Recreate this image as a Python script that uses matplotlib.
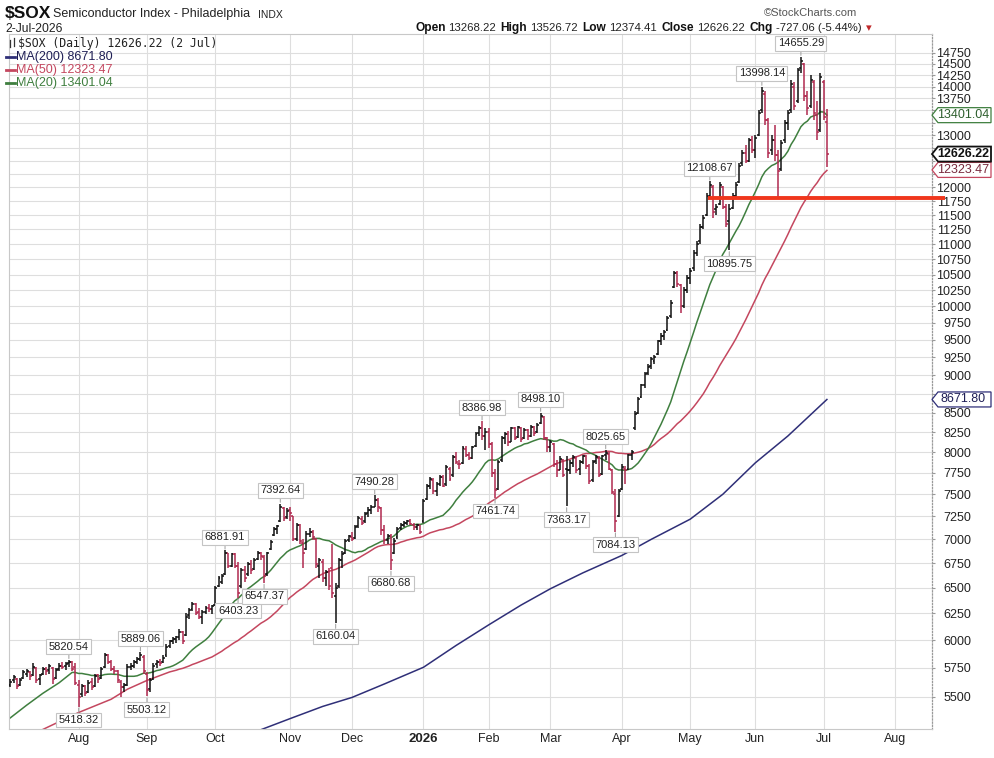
import numpy as np
import pandas as pd
import matplotlib
matplotlib.use("Agg")
import matplotlib.pyplot as plt
from matplotlib.patches import Polygon
from matplotlib.lines import Line2D
from matplotlib.ticker import FixedLocator, NullLocator, FuncFormatter

plt.rcParams['font.family'] = ['Liberation Sans', 'DejaVu Sans']

# ---------------- data ----------------
first_date = "2025-07-02"
market_holidays = ["2025-07-04", "2025-09-01", "2025-11-27", "2025-12-25", "2026-01-01",
                   "2026-01-19", "2026-02-16", "2026-04-03", "2026-05-25", "2026-06-19",
                   "2026-07-03", "2026-09-07"]

opens = [
    # Jul 2025
    5600, 5640, 5650, 5600, 5660, 5700, 5710, 5690, 5750, 5650, 5700, 5740, 5730, 5750, 5660, 5740, 5770, 5770, 5790, 5800, 5760,
    # Aug
    5600, 5520, 5590, 5540, 5630, 5590, 5690, 5660, 5760, 5860, 5800, 5740, 5720, 5630, 5580, 5600, 5760, 5770, 5800, 5830, 5850,
    # Sep
    5700, 5570, 5650, 5780, 5800, 5800, 5860, 5950, 5990, 6010, 6030, 6070, 6050, 6230, 6290, 6340, 6260, 6220, 6260, 6300, 6290,
    # Oct
    6330, 6520, 6560, 6640, 6850, 6720, 6840, 6720, 6520, 6680, 6640, 6740, 6690, 6790, 6860, 6810, 6640, 6900, 7050, 7110, 7200, 7340, 7240,
    # Nov
    7320, 7250, 7000, 7150, 6960, 6900, 7060, 7080, 7000, 6720, 6760, 6600, 6660, 6700, 6420, 6520, 6780, 6850, 6990,
    # Dec
    7020, 7010, 7140, 7220, 7200, 7290, 7320, 7360, 7440, 7340, 7100, 6990, 7040, 6850, 7020, 7120, 7160, 7180, 7200, 7160, 7130, 7150,
    # Jan 2026
    7200, 7450, 7600, 7670, 7540, 7620, 7700, 7620, 7800, 7720, 7940, 7860, 7870, 8040, 7960, 7930, 8080, 8240, 8300, 8200,
    # Feb
    8250, 8100, 7750, 7560, 7900, 8180, 8230, 8130, 8300, 8190, 8300, 8170, 8280, 8200, 8320, 8250, 8360, 8440, 8170,
    # Mar
    8060, 8100, 7850, 7790, 7900, 7800, 7780, 7870, 7930, 7800, 7880, 7950, 7830, 7660, 7890, 7930, 7740, 7960, 7980, 7790, 7500, 7250,
    # Apr
    7560, 7800, 7800, 7960, 8300, 8500, 8700, 8870, 9030, 9130, 9200, 9300, 9480, 9560, 9650, 9850, 10300, 10520, 10330, 10000, 10260,
    # May
    10450, 10600, 10850, 11050, 11300, 11500, 11850, 12000, 11600, 11700, 12000, 11650, 11400, 11620, 11850, 12100, 12450, 12650, 12500, 12900,
    # Jun
    12700, 13000, 13500, 13850, 13300, 12700, 12900, 12600, 12350, 12900, 13250, 13500, 14000, 13700, 14400, 14500, 13800, 13600, 14100, 13400, 13100,
    # Jul
    14100, 13268.22,
]
highs = [
    5650, 5690, 5660, 5660, 5730, 5740, 5720, 5790, 5760, 5700, 5760, 5760, 5780, 5760, 5750, 5790, 5800, 5800, 5820.54, 5810, 5790,
    5640, 5610, 5600, 5640, 5660, 5700, 5700, 5760, 5880, 5870, 5820, 5770, 5730, 5640, 5620, 5780, 5790, 5820, 5850, 5889.06, 5860,
    5710, 5660, 5790, 5820, 5830, 5860, 5960, 6000, 6030, 6040, 6100, 6080, 6250, 6300, 6360, 6350, 6300, 6280, 6320, 6340, 6330,
    6520, 6620, 6640, 6881.91, 6860, 6860, 6850, 6760, 6700, 6720, 6760, 6780, 6800, 6880, 6870, 6830, 6870, 6990, 7130, 7160, 7392.64, 7360, 7340,
    7350, 7260, 7180, 7170, 7000, 7090, 7120, 7100, 7010, 6800, 6790, 6680, 6700, 6950, 6550, 6800, 6880, 7000, 7050,
    7080, 7150, 7250, 7260, 7300, 7350, 7380, 7490.28, 7460, 7360, 7150, 7060, 7060, 7010, 7130, 7180, 7200, 7210, 7220, 7180, 7170, 7160,
    7450, 7620, 7700, 7690, 7640, 7720, 7720, 7840, 7820, 7960, 8000, 7900, 8080, 8080, 8000, 8080, 8250, 8330, 8386.98, 8300,
    8300, 8120, 7800, 7900, 8200, 8250, 8260, 8320, 8310, 8330, 8320, 8300, 8290, 8340, 8330, 8360, 8498.10, 8450, 8190,
    8150, 8110, 7900, 7950, 7920, 7950, 7900, 7960, 7950, 7900, 7970, 7960, 7850, 7900, 7960, 7950, 7960, 8025.65, 8000, 7800, 7560, 7560,
    7850, 7830, 7980, 8020, 8520, 8700, 8880, 9050, 9150, 9260, 9280, 9500, 9600, 9650, 9850, 10100, 10560, 10560, 10350, 10300, 10500,
    10600, 10900, 11050, 11350, 11500, 11900, 12108.67, 12050, 11700, 12100, 12020, 11700, 11700, 11900, 12100, 12450, 12700, 12800, 12950, 12980,
    13000, 13500, 13998.14, 13900, 13350, 13000, 13200, 12700, 12900, 13300, 13500, 14150, 14100, 14400, 14655.29, 14520, 13900, 14250, 14150, 13700, 14300,
    14150, 13526.72,
]
lows = [
    5580, 5620, 5570, 5590, 5650, 5670, 5640, 5680, 5620, 5600, 5690, 5690, 5700, 5610, 5650, 5720, 5740, 5730, 5760, 5720, 5600,
    5418.32, 5500, 5510, 5530, 5560, 5580, 5620, 5650, 5750, 5780, 5720, 5700, 5620, 5500, 5540, 5590, 5730, 5750, 5780, 5810, 5700,
    5503.12, 5540, 5640, 5750, 5770, 5790, 5850, 5930, 5960, 5970, 6000, 5960, 6040, 6200, 6270, 6230, 6200, 6150, 6240, 6260, 6240,
    6320, 6510, 6540, 6630, 6700, 6710, 6700, 6403.23, 6500, 6560, 6620, 6640, 6680, 6780, 6780, 6547.37, 6620, 6890, 7040, 7060, 7190, 7200, 7220,
    7200, 6980, 6980, 6950, 6700, 6890, 7020, 6990, 6700, 6600, 6560, 6520, 6480, 6400, 6160.04, 6500, 6700, 6840, 6970,
    6980, 7000, 7120, 7150, 7180, 7240, 7280, 7350, 7300, 7050, 6950, 6950, 6680.68, 6840, 7000, 7100, 7130, 7160, 7150, 7100, 7100, 7060,
    7180, 7440, 7560, 7500, 7480, 7600, 7580, 7600, 7650, 7700, 7860, 7800, 7860, 7940, 7900, 7920, 8060, 8200, 8150, 8020,
    8050, 7700, 7461.74, 7550, 7880, 8100, 8080, 8120, 8150, 8170, 8130, 8160, 8150, 8190, 8200, 8240, 8350, 8150, 8000,
    8000, 7820, 7700, 7780, 7700, 7363.17, 7740, 7820, 7750, 7720, 7850, 7800, 7620, 7640, 7850, 7700, 7730, 7900, 7780, 7500, 7084.13, 7240,
    7550, 7620, 7790, 7900, 8280, 8480, 8690, 8820, 9000, 9080, 9150, 9280, 9420, 9500, 9630, 9830, 10280, 10300, 9900, 9980, 10200,
    10350, 10550, 10800, 11000, 11250, 11480, 11800, 11450, 11500, 11680, 11600, 11300, 10895.75, 11600, 11800, 12080, 12400, 12450, 12480, 12650,
    12550, 12980, 13450, 13200, 12550, 12600, 12500, 11780, 12300, 12850, 13100, 13450, 13500, 13650, 14300, 13700, 13400, 13550, 13300, 12900, 13050,
    13300, 12374.41,
]
closes = [
    5630, 5670, 5590, 5645, 5710, 5725, 5680, 5760, 5640, 5690, 5740, 5720, 5765, 5650, 5735, 5770, 5755, 5780, 5800, 5740, 5620,
    5500, 5590, 5530, 5620, 5580, 5680, 5650, 5740, 5860, 5800, 5740, 5720, 5640, 5580, 5600, 5760, 5770, 5800, 5830, 5860, 5720,
    5560, 5640, 5770, 5800, 5790, 5840, 5940, 5990, 6010, 6030, 6070, 5990, 6220, 6280, 6340, 6250, 6220, 6260, 6300, 6290, 6320,
    6500, 6600, 6620, 6850, 6720, 6840, 6720, 6450, 6680, 6600, 6740, 6680, 6780, 6860, 6820, 6620, 6850, 6970, 7110, 7140, 7350, 7230, 7310,
    7290, 7000, 7150, 6980, 6850, 7060, 7080, 7020, 6740, 6780, 6600, 6660, 6520, 6450, 6500, 6780, 6840, 6980, 7040,
    7000, 7130, 7230, 7180, 7280, 7320, 7360, 7440, 7350, 7100, 6990, 7040, 6780, 6980, 7110, 7160, 7180, 7200, 7170, 7130, 7150, 7080,
    7420, 7600, 7680, 7540, 7620, 7700, 7600, 7820, 7680, 7940, 7880, 7850, 8050, 7970, 7930, 8060, 8220, 8300, 8200, 8250,
    8100, 7750, 7550, 7880, 8180, 8230, 8120, 8300, 8180, 8310, 8160, 8280, 8200, 8320, 8240, 8340, 8450, 8180, 8060,
    8120, 7850, 7780, 7920, 7720, 7780, 7870, 7940, 7790, 7880, 7950, 7830, 7650, 7880, 7940, 7730, 7950, 7990, 7800, 7530, 7200, 7540,
    7820, 7780, 7960, 8000, 8480, 8680, 8860, 9020, 9120, 9220, 9250, 9480, 9560, 9620, 9830, 10050, 10520, 10350, 10000, 10250, 10450,
    10550, 10850, 11000, 11300, 11450, 11850, 12050, 11550, 11650, 12050, 11650, 11350, 11600, 11850, 12050, 12400, 12650, 12500, 12900, 12700,
    12950, 13450, 13900, 13300, 12650, 12900, 12600, 12300, 12850, 13250, 13450, 14050, 13600, 14350, 14550, 13800, 13550, 14150, 13450, 13050, 14200,
    13353.28, 12626.22,
]

# moving-average segments before enough history exists
ma20_head_dates = ["2025-07-02", "2025-07-10", "2025-07-17", "2025-07-24"]
ma20_head_vals = [5326, 5430, 5530, 5620]
ma50_head_dates = ["2025-07-16", "2025-08-01", "2025-08-15", "2025-08-22", "2025-09-02"]
ma50_head_vals = [5220, 5370, 5480, 5565, 5640]
ma200_dates = ["2025-10-21", "2025-11-03", "2025-11-17", "2025-12-01", "2025-12-15", "2026-01-02",
               "2026-01-16", "2026-02-02", "2026-02-17", "2026-03-02", "2026-03-16", "2026-04-01",
               "2026-04-15", "2026-05-01", "2026-05-15", "2026-06-01", "2026-06-15", "2026-07-02"]
ma200_vals = [5230, 5320, 5420, 5495, 5610, 5755, 5950, 6140, 6330, 6490, 6650, 6830,
              7000, 7220, 7500, 7870, 8200, 8671.80]

support_level = 11800
support_start = "2026-05-11"

price_labels = [
    ("2025-07-29", "5820.54", "hi"), ("2025-08-01", "5418.32", "lo"),
    ("2025-08-28", "5889.06", "hi"), ("2025-09-02", "5503.12", "lo"),
    ("2025-10-06", "6881.91", "hi"), ("2025-10-10", "6403.23", "lo"),
    ("2025-10-22", "6547.37", "lo"), ("2025-10-29", "7392.64", "hi"),
    ("2025-11-21", "6160.04", "lo"), ("2025-12-10", "7490.28", "hi"),
    ("2025-12-17", "6680.68", "lo"), ("2026-01-29", "8386.98", "hi"),
    ("2026-02-04", "7461.74", "lo"), ("2026-02-25", "8498.10", "hi"),
    ("2026-03-09", "7363.17", "lo"), ("2026-03-25", "8025.65", "hi"),
    ("2026-03-30", "7084.13", "lo"), ("2026-05-11", "12108.67", "hi"),
    ("2026-05-19", "10895.75", "lo"), ("2026-06-03", "13998.14", "hi"),
    ("2026-06-22", "14655.29", "hi"),
]

y_ticks = list(range(5500, 14751, 250))
# tick labels hidden behind the value tags on the right axis
covered_ticks = [13500, 13250, 12750, 12500, 12250, 8750]

# ---------------- styling ----------------
W, H = 994, 758
UP = "#111111"
DOWN = "#b0294f"
C20 = "#3f7f3f"
C50 = "#c4475f"
C200 = "#2f2f78"
GRID = "#dedede"

fig = plt.figure(figsize=(W / 100, H / 100), dpi=100)
fig.patch.set_facecolor("white")
ax = fig.add_axes([9 / W, 1 - 729 / H, (932 - 9) / W, (729 - 34) / H])

hol = pd.to_datetime(market_holidays)
cal = pd.bdate_range(first_date, "2026-09-30")
cal = cal[~cal.isin(hol)]
pos_of = {d: i for i, d in enumerate(cal)}


def pos(d):
    return pos_of[pd.Timestamp(d)]


o = np.array(opens, float)
h = np.array(highs, float)
l = np.array(lows, float)
c = np.array(closes, float)
n = len(c)
idx = np.arange(n)
prev = np.r_[c[0], c[:-1]]
cols = np.where(c >= prev, UP, DOWN)

ax.set_yscale("log")
ax.set_ylim(5236, 15174)
ax.set_xlim(-0.4, 283.3)

ax.vlines(idx, l, h, colors=cols, lw=1.1, zorder=3)
ax.hlines(o, idx - 0.6, idx, colors=cols, lw=1.1, zorder=3)
ax.hlines(c, idx, idx + 0.6, colors=cols, lw=1.1, zorder=3)

cs = pd.Series(c)
ma20 = cs.rolling(20).mean()
ma50 = cs.rolling(50).mean()
x20 = [pos(d) for d in ma20_head_dates] + list(idx[19:])
y20 = list(ma20_head_vals) + list(ma20.values[19:])
x50 = [pos(d) for d in ma50_head_dates] + list(idx[49:])
y50 = list(ma50_head_vals) + list(ma50.values[49:])
x200 = [pos(d) for d in ma200_dates]

ax.plot(x200, ma200_vals, color=C200, lw=1.1, zorder=2)
ax.plot(x50, y50, color=C50, lw=1.1, zorder=2)
ax.plot(x20, y20, color=C20, lw=1.1, zorder=2)

# support line extends slightly beyond the frame
x_right = ax.get_xlim()[1] + 13 / 3.253
ax.plot([pos(support_start) - 0.6, x_right], [support_level, support_level],
        color="#f0361c", lw=2.8, solid_capstyle="butt", clip_on=False, zorder=6)

# price callouts
for d, txt, kind in price_labels:
    xi = pos(d)
    val = float(txt)
    if kind == "hi":
        off, va = 6, "bottom"
    else:
        off, va = -6, "top"
    ax.annotate(txt, xy=(xi, val), xytext=(0, off), textcoords="offset points",
                ha="center", va=va, fontsize=8, color="#222222", zorder=7,
                bbox=dict(boxstyle="square,pad=0.22", fc="white", ec="#c4c4c4", lw=0.8),
                arrowprops=dict(arrowstyle="-", color="#a8a8a8", lw=0.8, shrinkA=0, shrinkB=1))

# axes styling
ax.yaxis.set_major_locator(FixedLocator(y_ticks))
ax.yaxis.set_minor_locator(NullLocator())
ax.yaxis.set_major_formatter(FuncFormatter(
    lambda v, p: "" if int(round(v)) in covered_ticks else f"{int(round(v))}"))
ax.yaxis.tick_right()
ax.tick_params(axis="y", which="major", length=2, color="#999999", pad=26,
               labelsize=9, labelcolor="#222222")
for t in ax.get_yticklabels():
    t.set_ha("right")

month_pos, month_lab = [], []
for m in pd.period_range("2025-08", "2026-08", freq="M"):
    first = cal[(cal.year == m.year) & (cal.month == m.month)][0]
    month_pos.append(pos_of[first])
    month_lab.append("2026" if (m.month == 1) else first.strftime("%b"))
ax.set_xticks(month_pos)
ax.set_xticklabels(month_lab)
ax.tick_params(axis="x", length=0, pad=3, labelsize=9, labelcolor="#222222")
for t in ax.get_xticklabels():
    if t.get_text() == "2026":
        t.set_fontweight("bold")
        t.set_fontsize(9.5)

ax.grid(True, color=GRID, lw=0.8)
ax.set_axisbelow(True)
for s in ["left", "top", "bottom"]:
    ax.spines[s].set_color("#c8c8c8")
    ax.spines[s].set_linewidth(0.8)
ax.spines["right"].set_color("#9a9a9a")
ax.spines["right"].set_linestyle((0, (1, 1.5)))
ax.spines["right"].set_linewidth(0.9)


def fx(x):
    return x / W


def fy(y):
    return 1 - y / H


# right value tags
def tag(val, txt, ec, tc, bold=False):
    yd = ax.transData.transform((0, val))[1] / fig.bbox.height
    hh = 7.5 / H
    x0, x1 = fx(932), fx(991)
    xa = fx(938)
    poly = Polygon([(x0, yd), (xa, yd + hh), (x1, yd + hh), (x1, yd - hh), (xa, yd - hh)],
                   closed=True, transform=fig.transFigure, fc="white", ec=ec,
                   lw=1.3 if bold else 0.9, zorder=10)
    fig.add_artist(poly)
    fig.text(fx(963), yd, txt, ha="center", va="center", fontsize=9, color=tc,
             fontweight="bold" if bold else "normal", zorder=11)


tag(13401.04, "13401.04", C20, "#2d5e2d")
tag(8671.80, "8671.80", C200, "#1e1e55")
tag(12323.47, "12323.47", C50, "#7a2a3e")
tag(12626.22, "12626.22", "#111111", "#111111", bold=True)

# legend (upper left)
for (xa_, y0, y1) in [(9.5, 40, 47), (13.5, 38, 46)]:
    fig.add_artist(Line2D([fx(xa_), fx(xa_)], [fy(y0), fy(y1)], color="#333", lw=0.9))
fig.text(fx(18), fy(43), "$SOX (Daily) 12626.22 (2 Jul)", family="DejaVu Sans Mono",
         fontsize=8.3, color="#222222", va="center", ha="left")
for yy, col, tcol, txt in [(57, C200, "#1e1e55", "MA(200) 8671.80"),
                           (70, C50, C50, "MA(50) 12323.47"),
                           (83, C20, C20, "MA(20) 13401.04")]:
    fig.add_artist(Line2D([fx(6), fx(15)], [fy(yy), fy(yy)], color=col, lw=2.0))
    fig.text(fx(15.5), fy(yy), txt, fontsize=9, color=tcol, va="center", ha="left")

# header
fig.text(fx(5), fy(14), "$SOX", fontsize=12.5, fontweight="bold", color="#111", va="center")
fig.text(fx(53), fy(14), "Semiconductor Index - Philadelphia", fontsize=9, color="#222", va="center")
fig.text(fx(258), fy(14.5), "INDX", fontsize=7.5, color="#222", va="center")
fig.text(fx(5), fy(29), "2-Jul-2026", fontsize=8.7, color="#222", va="center")
fig.text(fx(857), fy(13), "\u00a9StockCharts.com", fontsize=8, color="#555", va="center", ha="right")

pieces = [("Open", True, "#111"), ("13268.22", False, "#222"), ("High", True, "#111"),
          ("13526.72", False, "#222"), ("Low", True, "#111"), ("12374.41", False, "#222"),
          ("Close", True, "#111"), ("12626.22", False, "#222"), ("Chg", True, "#111"),
          ("-727.06 (-5.44%)", False, "#222"), ("\u25be", False, "#c0282a")]
r = fig.canvas.get_renderer()
xcur = 415
for i, (t, b, col) in enumerate(pieces):
    fam = ["DejaVu Sans"] if t == "\u25be" else ["Liberation Sans", "DejaVu Sans"]
    tt = fig.text(fx(xcur), fy(28), t, fontsize=8.6 if b else 8.2,
                  fontweight="bold" if b else "normal", color=col, va="center", family=fam)
    bb = tt.get_window_extent(renderer=r)
    xcur = bb.x1 + (3 if b else 4.5)

fig.savefig("out.png", dpi=100, facecolor="white")
